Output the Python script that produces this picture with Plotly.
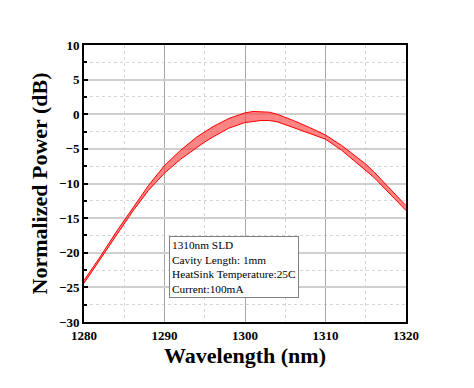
import plotly.graph_objects as go

# Data (upper / lower envelope of the ripple band)
wavelength = [1280, 1282, 1284, 1286, 1288, 1290, 1292, 1294, 1295, 1296, 1298,
              1300, 1301, 1302, 1303, 1304, 1305, 1306, 1308, 1310, 1312, 1314,
              1315, 1316, 1318, 1320]
upper_db = [-24.0, -20.6, -17.0, -13.6, -10.3, -7.4, -5.2, -3.3, -2.5, -1.8, -0.6,
            0.2, 0.4, 0.4, 0.3, 0.0, -0.4, -0.9, -1.9, -3.0, -4.5, -6.3,
            -7.2, -8.3, -10.7, -13.2]
lower_db = [-24.4, -21.0, -17.5, -14.1, -11.0, -8.5, -6.5, -4.8, -4.0, -3.3, -2.0,
            -1.2, -1.0, -0.9, -0.9, -1.1, -1.5, -1.9, -2.7, -3.6, -5.2, -7.1,
            -8.1, -9.1, -11.5, -13.9]

legend_lines = ["1310nm SLD", "Cavity Length: 1mm",
                "HeatSink Temperature:25C", "Current:100mA"]

serif = "Liberation Serif, Times New Roman, serif"

fig = go.Figure()
fig.add_trace(go.Scatter(x=wavelength, y=lower_db, mode="lines",
                         line=dict(color="red", width=1), showlegend=False))
fig.add_trace(go.Scatter(x=wavelength, y=upper_db, mode="lines",
                         line=dict(color="red", width=1),
                         fill="tonexty", fillcolor="rgba(255,50,50,0.6)",
                         showlegend=False))

fig.add_annotation(x=1290.6, y=-17.6, xref="x", yref="y",
                   xanchor="left", yanchor="top", align="left",
                   text="<br>".join(legend_lines), showarrow=False,
                   font=dict(family=serif, size=11.3, color="black"),
                   bordercolor="#808080", borderwidth=1, borderpad=2,
                   bgcolor="white")

fig.update_layout(
    width=466, height=380,
    margin=dict(l=76, r=68, t=37, b=66),
    paper_bgcolor="white", plot_bgcolor="white",
    font=dict(family=serif, color="black"),
    xaxis=dict(range=[1280, 1320], dtick=10, tick0=1280, automargin=False,
               showline=True, linecolor="black", linewidth=2, mirror=True,
               showgrid=True, gridcolor="#a8a8a8", gridwidth=1,
               ticks="", zeroline=False,
               tickfont=dict(family=serif, size=13, weight="bold"),
               minor=dict(dtick=5, showgrid=True, gridcolor="#d6d6d6",
                          griddash="dot", gridwidth=1),
               title=dict(text="Wavelength (nm)", standoff=6,
                          font=dict(family=serif, size=22, weight="bold"))),
    yaxis=dict(range=[-30, 10], dtick=5, tick0=-30, automargin=False,
               showline=True, linecolor="black", linewidth=2, mirror=True,
               showgrid=True, gridcolor="#cfcfcf", gridwidth=1.5,
               ticks="inside", ticklen=4, tickwidth=1.5, tickcolor="black",
               zeroline=False,
               tickfont=dict(family=serif, size=13, weight="bold"),
               minor=dict(dtick=2.5, showgrid=True, gridcolor="#d6d6d6",
                          griddash="dot", gridwidth=1, ticks="inside",
                          ticklen=3, tickcolor="black"),
               title=dict(text="Normalized Power (dB)", standoff=5,
                          font=dict(family=serif, size=22, weight="bold"))),
)

fig.write_html("out.html")
